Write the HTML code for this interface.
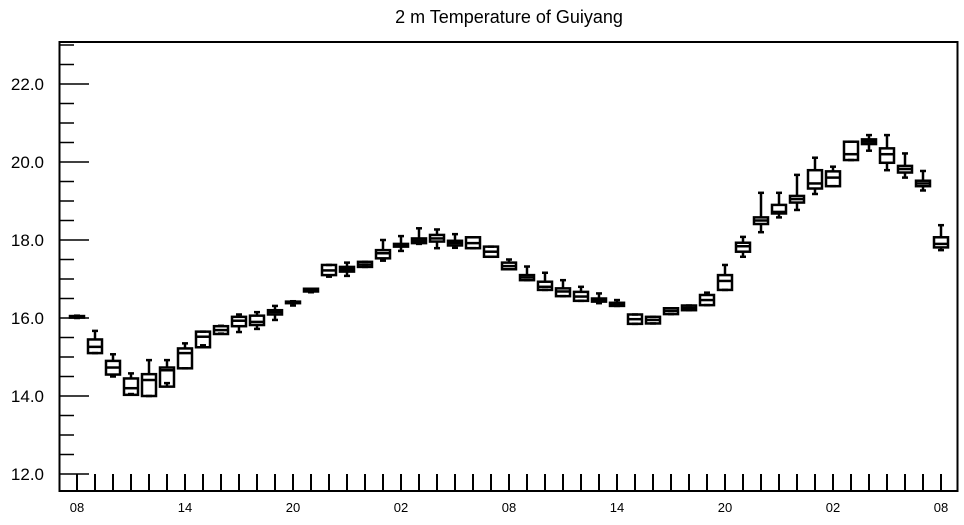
<!DOCTYPE html>
<html><head><meta charset="utf-8"><style>
body{margin:0;background:#fff}
svg text{font-family:"Liberation Sans",Arial,sans-serif;fill:#000}
</style></head><body>
<svg id="chart" width="964" height="520" viewBox="0 0 964 520" xmlns="http://www.w3.org/2000/svg">
<text x="509" y="23" font-size="18" text-anchor="middle">2 m Temperature of Guiyang</text>
<rect x="59.5" y="42" width="898" height="449" fill="none" stroke="#000" stroke-width="2"/>
<g id="yaxis"></g>
<g id="xaxis"></g>
<g id="boxes"></g>
</svg>
<script>
const yTicks = [12,14,16,18,20,22];
const yTickLabels = ["12.0","14.0","16.0","18.0","20.0","22.0"];
const xTickHours = [0,6,12,18,24,30,36,42,48];
const xTickLabels = ["08","14","20","02","08","14","20","02","08"];
const mins = [16.0,15.1,14.5,14.05,14.0,14.33,14.71,15.3,15.6,15.64,15.72,15.95,16.32,16.66,17.06,17.08,17.31,17.47,17.72,17.9,17.79,17.8,17.79,17.57,17.25,16.97,16.72,16.56,16.44,16.38,16.31,15.85,15.86,16.1,16.2,16.33,16.72,17.57,18.2,18.58,18.77,19.18,19.38,20.05,20.29,19.79,19.6,19.27,17.74];
const q1s = [16.01,15.1,14.55,14.03,14.0,14.24,14.71,15.25,15.59,15.79,15.82,16.09,16.38,16.68,17.1,17.19,17.31,17.53,17.83,17.92,17.96,17.86,17.79,17.57,17.25,16.97,16.72,16.56,16.44,16.42,16.31,15.85,15.86,16.1,16.2,16.33,16.72,17.7,18.41,18.68,18.96,19.32,19.38,20.05,20.46,19.98,19.73,19.38,17.81];
const medians = [16.03,15.26,14.73,14.2,14.41,14.66,15.1,15.52,15.69,15.93,15.9,16.15,16.4,16.72,17.22,17.25,17.37,17.66,17.86,17.98,18.04,17.92,17.92,17.7,17.33,17.04,16.8,16.68,16.55,16.46,16.35,15.97,15.95,16.18,16.26,16.46,16.95,17.84,18.5,18.72,19.05,19.45,19.6,20.2,20.52,20.2,19.82,19.45,17.9];
const q3s = [16.05,15.45,14.9,14.45,14.56,14.73,15.22,15.65,15.79,16.03,16.06,16.2,16.42,16.75,17.36,17.31,17.44,17.74,17.9,18.04,18.13,17.98,18.07,17.83,17.42,17.1,16.93,16.76,16.67,16.5,16.39,16.09,16.03,16.25,16.32,16.59,17.1,17.93,18.58,18.9,19.13,19.79,19.76,20.52,20.58,20.35,19.9,19.52,18.07];
const maxs = [16.06,15.67,15.07,14.58,14.92,14.92,15.35,15.65,15.8,16.09,16.15,16.31,16.43,16.75,17.36,17.42,17.44,18.0,18.1,18.3,18.27,18.15,18.07,17.83,17.5,17.32,17.16,16.97,16.8,16.63,16.46,16.09,16.03,16.25,16.32,16.65,17.36,18.08,19.21,19.21,19.67,20.11,19.88,20.52,20.69,20.69,20.22,19.77,18.38];

const NS="http://www.w3.org/2000/svg";
const Y=v=>474-(v-12)*39;
const X=h=>77+h*18;
function mk(tag,attrs,parent){const e=document.createElementNS(NS,tag);for(const k in attrs)e.setAttribute(k,attrs[k]);parent.appendChild(e);return e;}
const ya=document.getElementById('yaxis'),xa=document.getElementById('xaxis'),bx=document.getElementById('boxes');
for(let v=12;v<=23.001;v+=0.5){
  const major=Math.abs(v-Math.round(v/2)*2)<1e-6;
  const t=mk('line',{x1:59,x2:major?89:74,y1:Y(v),y2:Y(v),stroke:'#000','stroke-width':1.5},ya);
  
  
}
yTicks.forEach((v,i)=>{
  const t=mk('text',{x:44,y:Y(v)+6,'font-size':17,'text-anchor':'end'},ya);
  t.textContent=yTickLabels[i];
  
  
});
for(let h=0;h<=48;h++){
  const t=mk('line',{x1:X(h),x2:X(h),y1:474,y2:491,stroke:'#000','stroke-width':2},xa);
  
  
}
xTickHours.forEach((h,i)=>{
  const t=mk('text',{x:X(h),y:512,'font-size':13,'text-anchor':'middle'},xa);
  t.textContent=xTickLabels[i];
  
  
});
medians.forEach((m,i)=>{
  const g=mk('g',{stroke:'#000','stroke-width':2.5,fill:'none'},bx);
  
  
  const x=X(i),w=7;
  mk('line',{x1:x,x2:x,y1:Y(maxs[i]),y2:Y(q3s[i])},g);
  mk('line',{x1:x,x2:x,y1:Y(q1s[i]),y2:Y(mins[i])},g);
  mk('line',{x1:x-3,x2:x+3,y1:Y(maxs[i]),y2:Y(maxs[i])},g);
  mk('line',{x1:x-3,x2:x+3,y1:Y(mins[i]),y2:Y(mins[i])},g);
  const top=Y(q3s[i]),bot=Y(q1s[i]);
  mk('rect',{x:x-w,y:top,width:2*w,height:Math.max(bot-top,1)},g);
  mk('line',{x1:x-w,x2:x+w,y1:Y(m),y2:Y(m)},g);
});
</script>
</body></html>
